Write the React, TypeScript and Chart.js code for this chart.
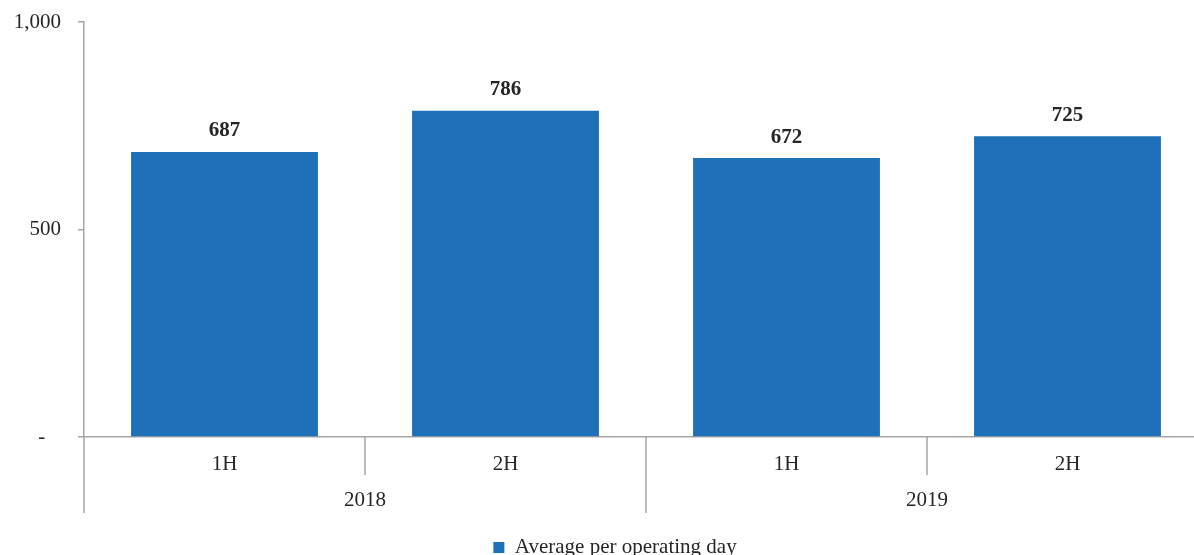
import React, { useEffect, useRef } from "react";
import { Chart, registerables } from "chart.js";

Chart.register(...registerables);

const halfLabels = ["1H", "2H", "1H", "2H"];
const yearLabels = ["2018", "2019"];
const values = [687, 786, 672, 725];
const seriesName = "Average per operating day";
const yTicks = [0, 500, 1000];

const BAR = "#1e70b8";
const AXIS = "#a6a6a6";
const TEXT = "#262626";
const FONT = "'Liberation Serif', 'Times New Roman', serif";
const FS = 21;

const overlay = {
  id: "overlay",
  afterLayout(chart: any) {
    if (chart.legend) chart.legend.left += 22;
  },
  afterDraw(chart: any) {
    const { ctx, chartArea } = chart;
    const xs = chart.scales.x;
    const n = halfLabels.length;
    const px = (i: number) => xs.getPixelForValue(i);
    const step = n > 1 ? px(1) - px(0) : chartArea.right - chartArea.left;
    const bound = (i: number) => px(i) - step / 2; // left edge of slot i
    const base = chartArea.bottom;
    ctx.save();
    ctx.strokeStyle = AXIS;
    ctx.lineWidth = 1.5;
    for (let i = 0; i <= n; i++) {
      const x = bound(i);
      const isGroup = i % 2 === 0;
      ctx.beginPath();
      ctx.moveTo(x, base);
      ctx.lineTo(x, base + (isGroup ? 76 : 38));
      ctx.stroke();
    }
    ctx.fillStyle = TEXT;
    ctx.font = `${FS}px ${FONT}`;
    ctx.textAlign = "center";
    ctx.textBaseline = "middle";
    yearLabels.forEach((y, g) => {
      const cx = bound(g * 2 + 1);
      ctx.fillText(y, cx, base + 63);
    });
    // value labels
    const meta = chart.getDatasetMeta(0);
    ctx.font = `bold ${FS}px ${FONT}`;
    meta.data.forEach((bar: any, i: number) => {
      ctx.fillText(String(values[i]), bar.x, bar.y - 21);
    });
    ctx.restore();
  },
};

export default function App() {
  const ref = useRef<HTMLCanvasElement>(null);
  useEffect(() => {
    const chart = new Chart(ref.current!, {
      type: "bar",
      data: {
        labels: halfLabels,
        datasets: [
          {
            label: seriesName,
            data: values,
            backgroundColor: BAR,
            categoryPercentage: 1,
            barPercentage: 0.665,
          },
        ],
      },
      options: {
        responsive: false,
        animation: false,
        layout: { padding: { left: 0, right: 0, top: 22, bottom: -13 } },
        plugins: {
          legend: {
            position: "bottom",
            labels: {
              font: { family: FONT, size: FS },
              color: TEXT,
              boxWidth: 11,
              boxHeight: 11,
              padding: 0,
            },
          },
          tooltip: { enabled: false },
        },
        scales: {
          x: {
            grid: { display: true, drawOnChartArea: false, drawTicks: false },
            border: { color: AXIS, width: 1.5 },
            ticks: {
              font: { family: FONT, size: FS },
              color: TEXT,
              padding: 15,
              maxRotation: 0,
            },
            afterFit: (s: any) => {
              s.height = 100;
              s.paddingLeft = 0;
              s.paddingRight = 0;
            },
          },
          y: {
            min: 0,
            max: 1000,
            afterBuildTicks: (s: any) => {
              s.ticks = yTicks.map((v) => ({ value: v }));
            },
            grid: {
              drawOnChartArea: false,
              drawTicks: true,
              tickLength: 6,
              color: AXIS,
              lineWidth: 1.5,
            },
            border: { color: AXIS, width: 1.5 },
            ticks: {
              font: { family: FONT, size: FS },
              color: TEXT,
              padding: 17,
              callback: (v: any) => (Number(v) === 0 ? "-\u2002 " : Number(v).toLocaleString("en-US")),
            },
            afterFit: (s: any) => {
              s.width = 84;
              s.paddingTop = 0;
              s.paddingBottom = 0;
            },
          },
        },
      },
      plugins: [overlay],
    });
    return () => chart.destroy();
  }, []);
  return (
    <div style={{ position: "fixed", left: 0, top: 0, width: 1194, height: 555, overflow: "hidden", background: "#fff" }}>
      <canvas ref={ref} width={1208} height={555} />
    </div>
  );
}
